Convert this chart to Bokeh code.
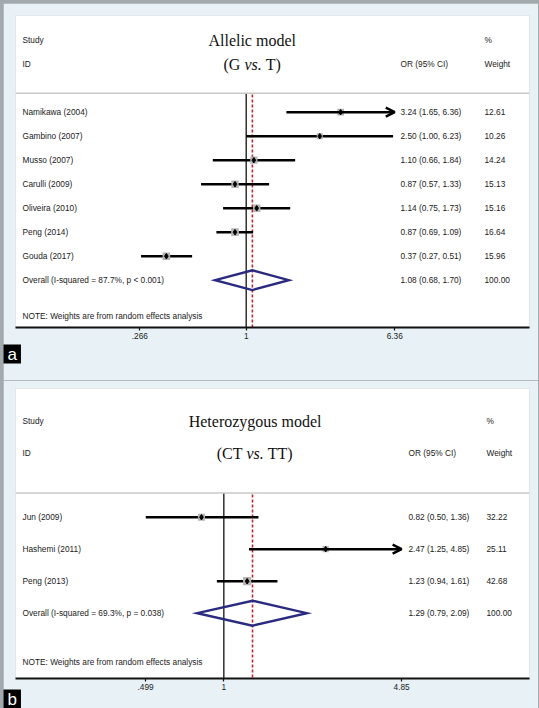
import numpy as np
from bokeh.plotting import figure
from bokeh.models import (ColumnDataSource, Range1d, FixedTicker, Span, Title,
                          Arrow, OpenHead, LinearScale)
from bokeh.layouts import column
from bokeh.embed import file_html
from bokeh.resources import INLINE
from bokeh.core.properties import value

# ---------------- data: panel a (Allelic model, G vs. T) ----------------
a_studies = ["Namikawa  (2004)", "Gambino  (2007)", "Musso  (2007)", "Carulli  (2009)",
             "Oliveira  (2010)", "Peng  (2014)", "Gouda  (2017)"]
a_or = [3.24, 2.50, 1.10, 0.87, 1.14, 0.87, 0.37]
a_lo = [1.65, 1.00, 0.66, 0.57, 0.75, 0.69, 0.27]
a_hi = [6.36, 6.23, 1.84, 1.33, 1.73, 1.09, 0.51]
a_ci_text = ["3.24 (1.65, 6.36)", "2.50 (1.00, 6.23)", "1.10 (0.66, 1.84)", "0.87 (0.57, 1.33)",
             "1.14 (0.75, 1.73)", "0.87 (0.69, 1.09)", "0.37 (0.27, 0.51)"]
a_weight = ["12.61", "10.26", "14.24", "15.13", "15.16", "16.64", "15.96"]
a_overall = [1.08, 0.68, 1.70]
a_overall_text = ["Overall  (I-squared = 87.7%, p < 0.001)", "1.08 (0.68, 1.70)", "100.00"]
a_ticks = [0.266, 1, 6.36]
a_tick_labels = [".266", "1", "6.36"]
a_title = ["Allelic model", "(G", "vs.", "T)"]

# ---------------- data: panel b (Heterozygous model, CT vs. TT) ----------------
b_studies = ["Jun  (2009)", "Hashemi  (2011)", "Peng  (2013)"]
b_or = [0.82, 2.47, 1.23]
b_lo = [0.50, 1.25, 0.94]
b_hi = [1.36, 4.85, 1.61]
b_ci_text = ["0.82 (0.50, 1.36)", "2.47 (1.25, 4.85)", "1.23 (0.94, 1.61)"]
b_weight = ["32.22", "25.11", "42.68"]
b_overall = [1.29, 0.79, 2.09]
b_overall_text = ["Overall  (I-squared = 69.3%, p = 0.038)", "1.29 (0.79, 2.09)", "100.00"]
b_ticks = [0.499, 1, 4.85]
b_tick_labels = [".499", "1", "4.85"]
b_title = ["Heterozygous model", "(CT", "vs.", "TT)"]

note_text = "NOTE: Weights are from random effects analysis"

BLUE = "#e8f2f6"
GREY_EDGE = "#a3aaae"
TXT = "#1a1a1a"
SANS = value("Liberation Sans")
SERIF = value("Liberation Serif")


def panel(studies, est, lo, hi, ci_text, weight, overall, overall_text, ticks, tick_labels,
          title, tag, cfg):
    n = len(studies)
    rows = list(range(1, n + 1))
    orow = n + 1
    p = figure(width=535, height=cfg["height"], x_axis_type="log",
               x_range=Range1d(cfg["xmin"], cfg["xmax"]),
               y_range=Range1d(cfg["ybot"], cfg["ytop"]),
               output_backend="svg", toolbar_location=None, y_axis_location=None,
               min_border_left=12, min_border_right=9,
               min_border_top=cfg["mt"], min_border_bottom=cfg["mb"],
               border_fill_color=BLUE, background_fill_color="white",
               outline_line_color=None, margin=cfg["margin"])
    p.extra_x_ranges = {"px": Range1d(15, 529)}
    p.extra_x_scales = {"px": LinearScale()}
    p.xgrid.visible = False
    p.ygrid.visible = False

    ax = p.xaxis[0]
    ax.ticker = FixedTicker(ticks=ticks, minor_ticks=[])
    ax.major_label_overrides = {t: l for t, l in zip(ticks, tick_labels)}
    ax.axis_line_width = 2
    ax.axis_line_color = "#111111"
    ax.major_tick_out = 3
    ax.major_tick_in = 0
    ax.major_tick_line_width = 1.2
    ax.major_tick_line_color = "#111111"
    ax.minor_tick_line_color = None
    ax.major_label_standoff = 2
    ax.major_label_text_font = "Liberation Sans"
    ax.major_label_text_font_size = "8.3px"
    ax.major_label_text_color = TXT

    # panel tag (white letter on a black box) below the axis
    p.add_layout(Title(text=tag, text_color="white", background_fill_color="black",
                       background_fill_alpha=1, text_font="Liberation Sans",
                       text_font_size="17px", text_font_style="normal", align="left",
                       offset=-12, standoff=cfg["tag_standoff"],
                       padding=dict(left=4, right=4, top=0, bottom=0)), "below")

    # separator under header
    p.add_layout(Span(location=cfg["sep"], dimension="width", line_color="#c8c8c8",
                      line_width=1.5))
    # line of no effect and overall estimate
    p.segment(x0=[1], y0=[cfg["sep"]], x1=[1], y1=[cfg["ybot"]], line_color="#111111",
              line_width=1.3)
    p.segment(x0=[overall[0]], y0=[cfg["sep"] + 0.05], x1=[overall[0]], y1=[cfg["ybot"]],
              line_color="#c0262d", line_width=1.6, line_dash="3 2")

    # confidence intervals
    xmax_tick = max(ticks)
    arrow = [h >= xmax_tick for h in hi]
    seg = ColumnDataSource(dict(x0=[l for l, a in zip(lo, arrow) if not a],
                                x1=[h for h, a in zip(hi, arrow) if not a],
                                y=[r for r, a in zip(rows, arrow) if not a]))
    p.segment(x0="x0", y0="y", x1="x1", y1="y", source=seg, line_color="black",
              line_width=2.4)
    arr = ColumnDataSource(dict(x0=[l for l, a in zip(lo, arrow) if a],
                                x1=[h for h, a in zip(hi, arrow) if a],
                                y=[r for r, a in zip(rows, arrow) if a]))
    p.add_layout(Arrow(x_start="x0", y_start="y", x_end="x1", y_end="y", source=arr,
                       line_color="black", line_width=2.4,
                       end=OpenHead(size=9, line_width=2.4, line_color="black")))

    # weight squares and point estimates
    sizes = [cfg["sq"] * np.sqrt(float(w)) for w in weight]
    p.scatter(x=est, y=rows, marker="square", size=sizes, fill_color="#b3b3b3",
              line_color=None)
    p.scatter(x=est, y=rows, marker="diamond", size=5.5, fill_color="black",
              line_color="black")

    # pooled diamond
    h = cfg["dh"]
    p.patch(x=[overall[1], overall[0], overall[2], overall[0], overall[1]],
            y=[orow, orow - h, orow, orow + h, orow], fill_alpha=0,
            line_color="#2a2a80", line_width=2.4, line_join="miter")

    fs = "8.3px"
    common = dict(x_range_name="px", text_font=SANS, text_font_size=fs,
                  text_baseline="middle", text_align="left", text_color=TXT)
    # header
    p.text(x=[22, 22], y=[-2, -1], text=["Study", "ID"], **common)
    p.text(x=[cfg["cx"]], y=[-1], text=["OR (95% CI)"], **common)
    p.text(x=[cfg["wx"], cfg["wx"]], y=[-2, -1], text=["%", "Weight"], **common)
    # rows
    p.text(x=[22] * n, y=rows, text=studies, **common)
    p.text(x=[cfg["cx"]] * n, y=rows, text=ci_text, **common)
    p.text(x=[cfg["wx"]] * n, y=rows, text=weight, **common)
    p.text(x=[22, cfg["cx"], cfg["wx"]], y=[orow] * 3, text=overall_text, **common)
    p.text(x=[22], y=[cfg["note"]], text=[note_text], **common)

    # serif title
    tcommon = dict(x_range_name="px", text_font=SERIF, text_font_size="16px",
                   text_baseline="middle", text_color="#111111")
    p.text(x=[cfg["tx"]], y=[-2], text=[title[0]], text_align="center", **tcommon)
    p.text(x=[cfg["t1"]], y=[-1], text=[title[1]], text_align="left", **tcommon)
    p.text(x=[cfg["t2"]], y=[-1], text=[title[2]], text_align="left",
           text_font_style="italic", **tcommon)
    p.text(x=[cfg["t3"]], y=[-1], text=[title[3]], text_align="left", **tcommon)
    return p


cfg_a = dict(height=377, mt=12, mb=53, margin=(3, 1, 0, 3),
             xmin=0.05653, xmax=34.06, ybot=9.971, ytop=-3.029,
             sep=0.21, note=9.5, dh=0.41, sq=1.9, cx=400, wx=484,
             tx=251.7, t1=223.0, t2=243.9, t3=265.2, tag_standoff=2)
cfg_b = dict(height=328, mt=8, mb=30, margin=(0, 1, 0, 3),
             xmin=0.1572, xmax=15.10, ybot=6.041, ytop=-3.022,
             sep=0.24, note=5.53, dh=0.39, sq=1.25, cx=408, wx=486,
             tx=254.6, t1=216.2, t2=246.0, t3=267.3, tag_standoff=-10)

pa = panel(a_studies, a_or, a_lo, a_hi, a_ci_text, a_weight, a_overall, a_overall_text,
           a_ticks, a_tick_labels, a_title, "a", cfg_a)
pb = panel(b_studies, b_or, b_lo, b_hi, b_ci_text, b_weight, b_overall, b_overall_text,
           b_ticks, b_tick_labels, b_title, "b", cfg_b)

layout = column(pa, pb, spacing=0, styles={"background-color": GREY_EDGE})
open("out.html", "w").write(file_html(layout, INLINE))
